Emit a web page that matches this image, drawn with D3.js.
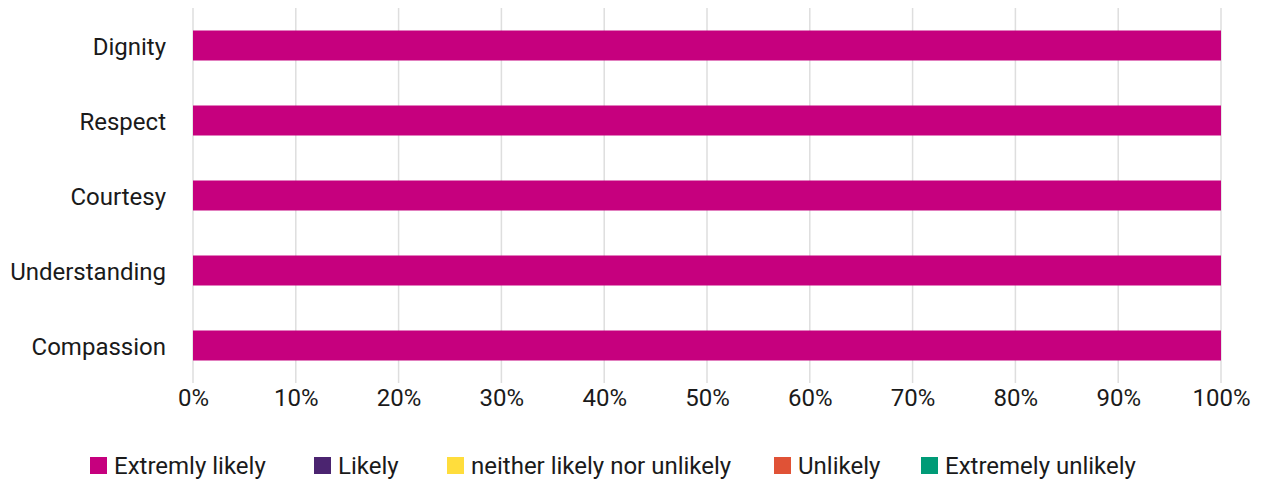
<!DOCTYPE html>
<html><head><meta charset="utf-8">
<script src="https://cdn.jsdelivr.net/npm/d3@7"></script>
<style>body{margin:0;background:#fff}svg{display:block;font-family:Roboto,sans-serif}</style>
</head><body><svg id="c" width="1264" height="484"></svg>
<script>
const categories = ["Dignity","Respect","Courtesy","Understanding","Compassion"];
const seriesNames = ["Extremly likely","Likely","neither likely nor unlikely","Unlikely","Extremely unlikely"];
const extremlyLikely = [100,100,100,100,100];
const likely = [0,0,0,0,0];
const neither = [0,0,0,0,0];
const unlikely = [0,0,0,0,0];
const extremelyUnlikely = [0,0,0,0,0];
const tickValues = [0,10,20,30,40,50,60,70,80,90,100];
const colors = ["#c6007e","#4b2470","#ffdd3c","#e05236","#009b77"];

const rows = categories.map((c,i)=>({cat:c, s0:extremlyLikely[i], s1:likely[i], s2:neither[i], s3:unlikely[i], s4:extremelyUnlikely[i]}));
const keys = ["s0","s1","s2","s3","s4"];
const stacked = d3.stack().keys(keys)(rows);

const svg = d3.select("#c");
const x = d3.scaleLinear().domain([0,100]).range([193,1221]);
const y = d3.scaleBand().domain(categories).range([8,383]).paddingInner(0.6).paddingOuter(0.3);

// grid
svg.append("g").selectAll("line").data(tickValues).join("line")
  .attr("x1",d=>x(d)).attr("x2",d=>x(d)).attr("y1",8).attr("y2",383)
  .attr("stroke","#dedede").attr("stroke-width",1.5);

// bars
svg.append("g").selectAll("g").data(stacked).join("g")
  .attr("fill",(d,i)=>colors[i])
  .selectAll("rect").data(d=>d).join("rect")
  .attr("x",d=>x(d[0])).attr("width",d=>x(d[1])-x(d[0]))
  .attr("y",d=>y(d.data.cat)).attr("height",y.bandwidth());

// x axis
const xa = svg.append("g").attr("transform","translate(0,383)")
  .call(d3.axisBottom(x).tickValues(tickValues).tickFormat(d=>d+"%").tickSize(0).tickPadding(6));
xa.select(".domain").remove();
xa.selectAll("text").attr("font-size",24).attr("fill","#1a1a1a").attr("font-family","Roboto,sans-serif");

// y axis
const ya = svg.append("g").attr("transform","translate(166,0)")
  .call(d3.axisLeft(y).tickSize(0).tickPadding(0));
ya.select(".domain").remove();
ya.selectAll("text").attr("font-size",24).attr("fill","#1a1a1a").attr("font-family","Roboto,sans-serif")
  .attr("dy","0.4em");

// legend
const legX = [90,314,447,774,921];
const lg = svg.append("g").selectAll("g").data(seriesNames).join("g")
  .attr("transform",(d,i)=>`translate(${legX[i]},457)`);
lg.append("rect").attr("width",17).attr("height",17).attr("fill",(d,i)=>colors[i]);
lg.append("text").attr("x",24).attr("y",9).attr("dy","0.35em")
  .attr("font-size",24).attr("fill","#1a1a1a").text(d=>d);
</script></body></html>
